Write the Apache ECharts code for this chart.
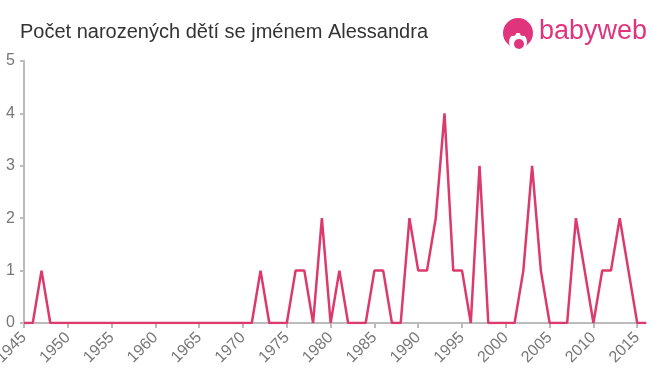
<!DOCTYPE html>
<html><head><meta charset="utf-8">
<script src="https://cdn.jsdelivr.net/npm/echarts@6/dist/echarts.min.js"></script>
<style>html,body{margin:0;padding:0;background:#fff}#c{width:660px;height:375px}</style>
</head><body><div id="c"></div>
<script>
const years = [1945,1946,1947,1948,1949,1950,1951,1952,1953,1954,1955,1956,1957,1958,1959,1960,1961,1962,1963,1964,1965,1966,1967,1968,1969,1970,1971,1972,1973,1974,1975,1976,1977,1978,1979,1980,1981,1982,1983,1984,1985,1986,1987,1988,1989,1990,1991,1992,1993,1994,1995,1996,1997,1998,1999,2000,2001,2002,2003,2004,2005,2006,2007,2008,2009,2010,2011,2012,2013,2014,2015,2016];
const counts = [0,0,1,0,0,0,0,0,0,0,0,0,0,0,0,0,0,0,0,0,0,0,0,0,0,0,0,1,0,0,0,1,1,0,2,0,1,0,0,0,1,1,0,0,2,1,1,2,4,1,1,0,3,0,0,0,0,1,3,1,0,0,0,2,1,0,1,1,2,1,0,0];
const titleText = 'Počet narozených dětí se jménem Alessandra';

const pink = '#e0347d';
const chart = echarts.init(document.getElementById('c'));
chart.setOption({
  animation: false,
  title: {text: titleText, left: 15, top: 17, textStyle: {fontFamily: 'Arial, Liberation Sans, sans-serif', fontSize: 20, fontWeight: 'normal', color: '#333'}},
  graphic: [
    {type: 'circle', shape: {cx: 518, cy: 33, r: 15}, style: {fill: pink}},
    {type: 'ellipse', shape: {cx: 518, cy: 42, rx: 9, ry: 9}, style: {fill: '#fff'}},
    {type: 'circle', shape: {cx: 513, cy: 33, r: 3}, style: {fill: pink}},
    {type: 'circle', shape: {cx: 523, cy: 33, r: 3}, style: {fill: pink}},
    {type: 'circle', shape: {cx: 519, cy: 44, r: 5}, style: {fill: pink}},
    {type: 'text', left: 539, top: 18, style: {text: 'babyweb', fontFamily: 'Arial, Liberation Sans, sans-serif', fontSize: 27, fill: pink}}
  ],
  grid: {left: 24, right: 14, top: 61, bottom: 52, outerBoundsMode: 'none', containLabel: false},
  xAxis: {
    type: 'value', min: 1945, max: 2016, interval: 5,
    axisLine: {lineStyle: {color: '#bbb', width: 2}},
    axisTick: {show: true, length: 5, lineStyle: {color: '#bbb', width: 2}},
    splitLine: {show: false},
    axisLabel: {rotate: 45, color: '#777', fontSize: 16, fontFamily: 'Arial, Liberation Sans, sans-serif', margin: 12, formatter: v => String(v)}
  },
  yAxis: {
    type: 'value', min: 0, max: 5, interval: 1,
    axisLine: {show: true, lineStyle: {color: '#bbb', width: 2}},
    axisTick: {show: true, length: 4, lineStyle: {color: '#bbb', width: 2}},
    splitLine: {show: false},
    axisLabel: {color: '#777', fontSize: 16, fontFamily: 'Arial, Liberation Sans, sans-serif', margin: 9}
  },
  series: [{
    type: 'line', data: years.map((y, i) => [y, counts[i]]),
    showSymbol: false, symbol: 'none',
    lineStyle: {color: '#dc3a6c', width: 2.5}
  }]
});
</script></body></html>
